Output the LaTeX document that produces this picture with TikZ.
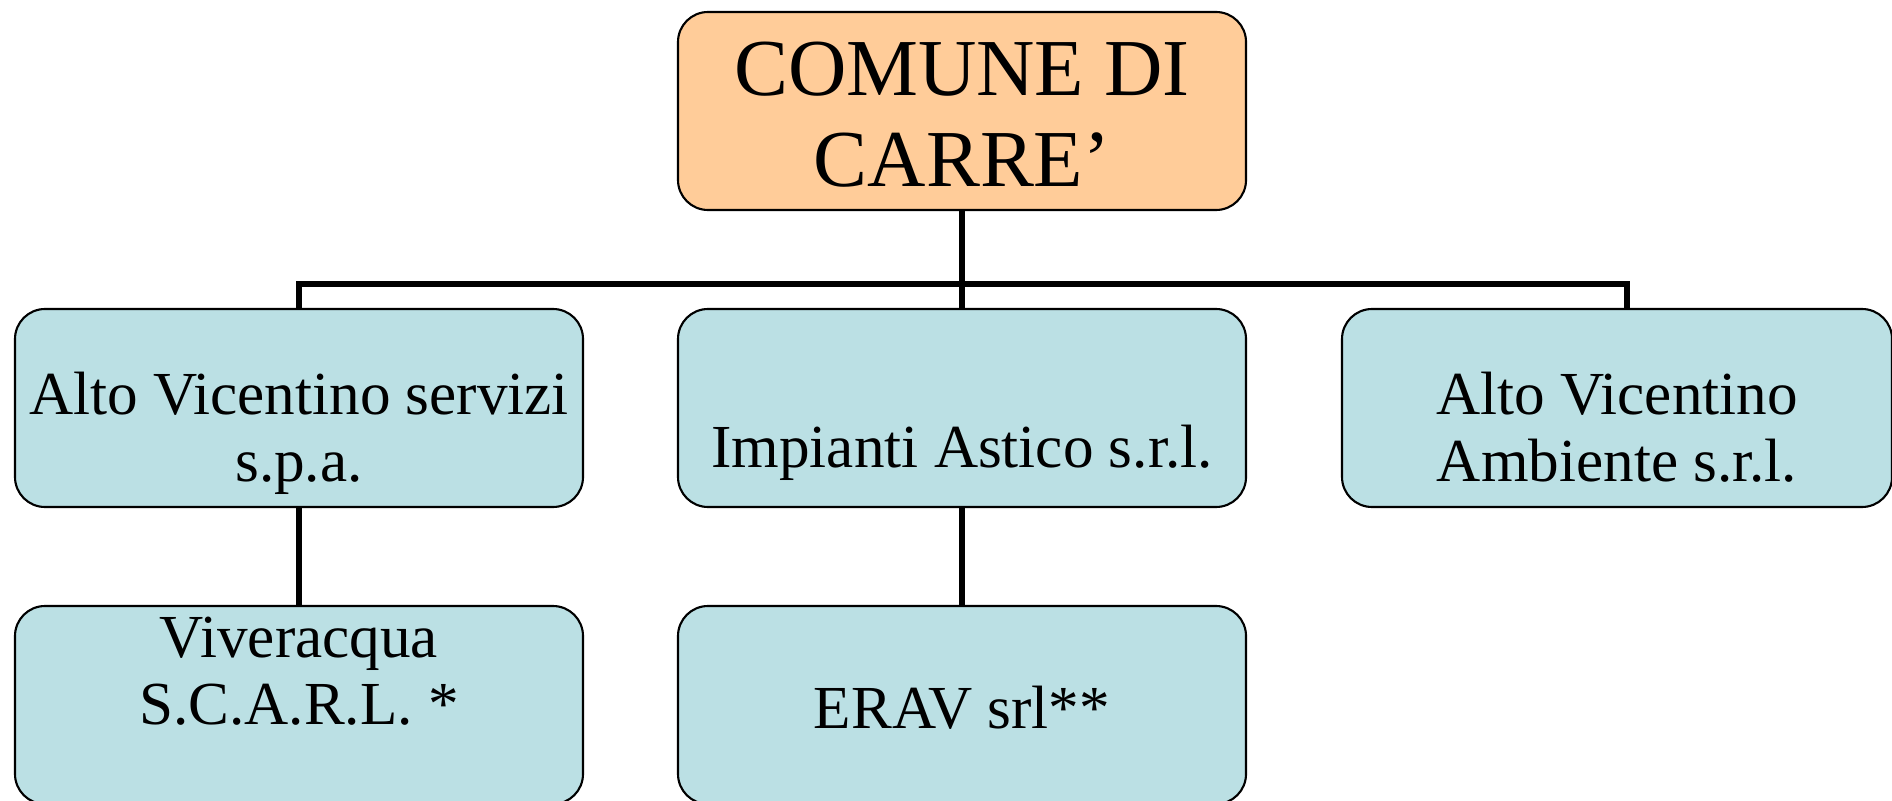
\documentclass[tikz,border=0pt]{standalone}
\usepackage{fontspec}
\setmainfont{Liberation Serif}
\usetikzlibrary{positioning}
\definecolor{peach}{RGB}{255,204,153}
\definecolor{paleblue}{RGB}{187,224,228}

\begin{document}
\begin{tikzpicture}[
    box/.style={draw=black, line width=0.6pt, rounded corners=0.3cm, minimum width=5.68cm, minimum height=1.98cm, inner sep=0pt},
    txt/.style={align=center, inner sep=0pt, font=\fontsize{17.4}{19}\selectfont},
    conn/.style={line width=1.7pt}]
      \useasboundingbox (0,0) rectangle (18.92,-8);
      \node[box, fill=peach] (comune) at (9.62,-1.11) {};
      \node[box, fill=paleblue] (avs) at (2.99,-4.08) {};
      \node[box, fill=paleblue] (ia) at (9.62,-4.08) {};
      \node[box, fill=paleblue, minimum width=5.5cm] (ava) at (16.17,-4.08) {};
      \node[box, fill=paleblue] (viv) at (2.99,-7.05) {};
      \node[box, fill=paleblue] (erav) at (9.62,-7.05) {};
      \draw[conn] (comune.south) -- (ia.north);
      \draw[conn] (avs.north) -- ++(0,0.24) -| ([xshift=1mm]ava.north);
      \draw[conn] (avs.south) -- (viv.north);
      \draw[conn] (ia.south) -- (erav.north);
      \node[txt, font=\fontsize{23}{25.7}\selectfont] (comunetxt) at (9.62,-1.145) {COMUNE DI\\CARRE'};
      \node[txt] (avstxt) at (2.99,-4.33) {Alto Vicentino servizi\\s.p.a.};
      \node[txt] (iatxt) at (9.62,-4.53) {Impianti Astico s.r.l.};
      \node[txt] (avatxt) at (16.17,-4.27) {Alto Vicentino\\Ambiente s.r.l.};
      \node[txt] (vivtxt) at (2.99,-6.71) {Viveracqua\\S.C.A.R.L. *};
      \node[txt] (eravtxt) at (9.62,-7.075) {ERAV srl**};
    \end{tikzpicture}
\end{document}
